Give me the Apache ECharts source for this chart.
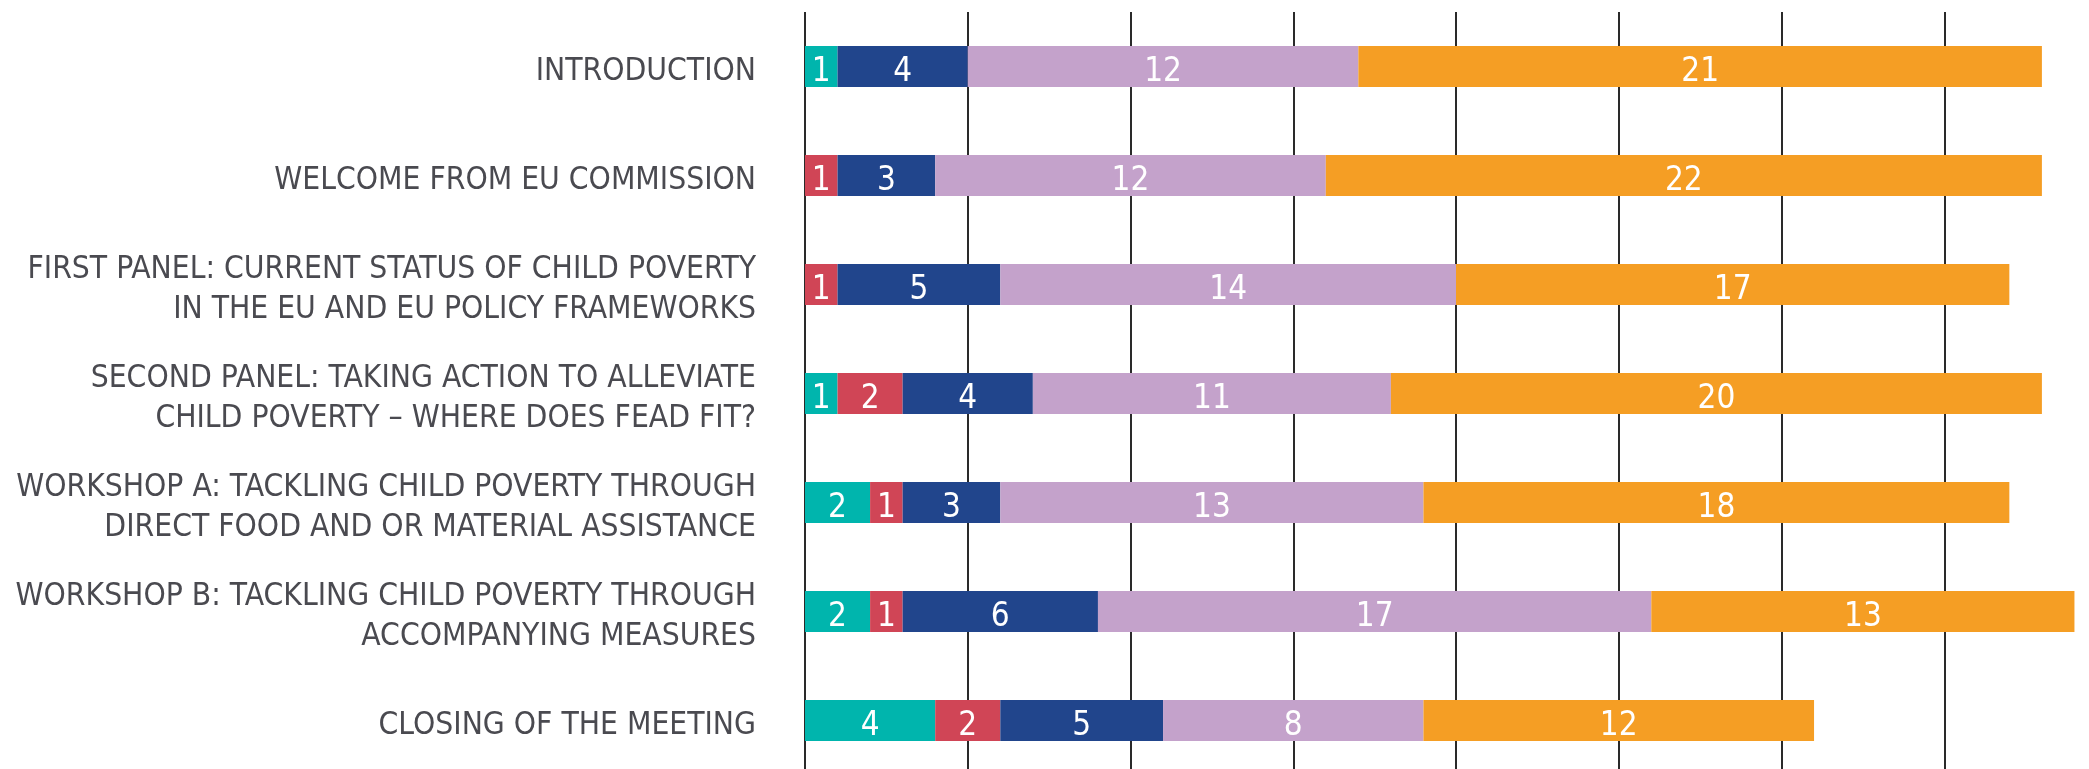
<!DOCTYPE html>
<html>
<head>
<meta charset="utf-8">
<script src="https://cdn.jsdelivr.net/npm/echarts@6/dist/echarts.min.js"></script>
<style>html,body{margin:0;padding:0;background:#fff}#c{width:2089px;height:769px}</style>
</head>
<body>
<div id="c"></div>
<script>
var categories = [
  'INTRODUCTION',
  'WELCOME FROM EU COMMISSION',
  'FIRST PANEL: CURRENT STATUS OF CHILD POVERTY\nIN THE EU AND EU POLICY FRAMEWORKS',
  'SECOND PANEL: TAKING ACTION TO ALLEVIATE\nCHILD POVERTY \u2013 WHERE DOES FEAD FIT?',
  'WORKSHOP A: TACKLING CHILD POVERTY THROUGH\nDIRECT FOOD AND OR MATERIAL ASSISTANCE',
  'WORKSHOP B: TACKLING CHILD POVERTY THROUGH\nACCOMPANYING MEASURES',
  'CLOSING OF THE MEETING'
];
var seriesTeal   = [1, 0, 0, 1, 2, 2, 4];
var seriesRed    = [0, 1, 1, 2, 1, 1, 2];
var seriesBlue   = [4, 3, 5, 4, 3, 6, 5];
var seriesLilac  = [12, 12, 14, 11, 13, 17, 8];
var seriesOrange = [21, 22, 17, 20, 18, 13, 12];

var colors = ['#00b5ad', '#d04556', '#21458c', '#c4a2cb', '#f59e24'];
var seriesData = [seriesTeal, seriesRed, seriesBlue, seriesLilac, seriesOrange];
var FONT = '"Liberation Sans Narrow", "DejaVu Sans Condensed", sans-serif';

var chart = echarts.init(document.getElementById('c'), null, {renderer: 'canvas'});
chart.setOption({
  animation: false,
  grid: {left: 805, top: 12, width: 1302, height: 763, containLabel: false, outerBoundsMode: 'none'},
  xAxis: {
    type: 'value', min: 0, max: 40, interval: 5,
    axisLine: {show: false}, axisTick: {show: false}, axisLabel: {show: false},
    splitLine: {show: true, lineStyle: {color: '#2a2a2a', width: 2}}
  },
  yAxis: {
    type: 'category', data: categories, inverse: true,
    axisLine: {show: false}, axisTick: {show: false},
    axisLabel: {
      color: '#4a4a50', fontSize: 31.5, fontFamily: FONT,
      margin: 49, align: 'right',
      formatter: function (v) {
        return v.split('\n').map(function (s) { return '{a|' + s + '}'; }).join('\n');
      },
      rich: {
        a: {color: '#4a4a50', fontSize: 31.5, fontFamily: FONT, lineHeight: 40, padding: [10, 0, 0, 0], align: 'right'}
      }
    }
  },
  series: seriesData.map(function (d, i) {
    return {
      type: 'bar', stack: 'all', data: d, barWidth: 41,
      itemStyle: {color: colors[i]},
      label: {
        show: true, position: 'inside', color: '#fff', fontSize: 33,
        fontFamily: FONT, offset: [0, 6],
        formatter: function (p) { return p.value ? String(p.value) : ''; }
      }
    };
  })
});
</script>
</body>
</html>
